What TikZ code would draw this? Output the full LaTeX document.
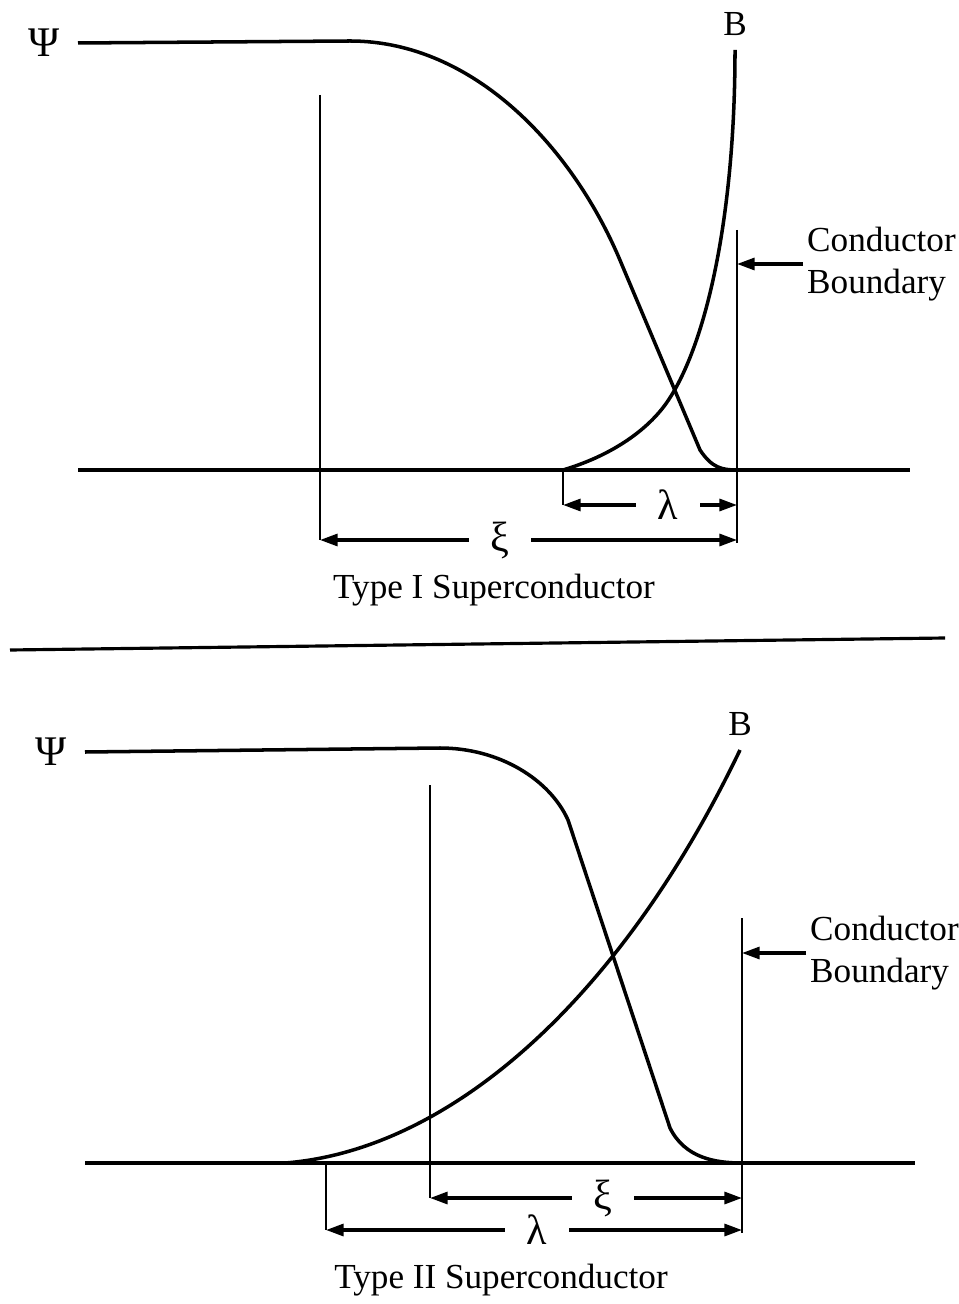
\documentclass[tikz,border=0pt]{standalone}
\usepackage{fontspec}
\setmainfont{Liberation Serif}
\usetikzlibrary{arrows.meta,positioning,calc}

\begin{document}
\begin{tikzpicture}[x=0.01cm, y=-0.01cm,
        curve/.style = {line width=1.0pt, line join=round},
        axis/.style = {line width=0.9pt},
        edge/.style = {line width=0.8pt},
        dim/.style = {-{Triangle[length=5pt,width=3.4pt]}, line width=0.9pt},
        lbl/.style = {font=\fontsize{10}{12}\selectfont, inner sep=1pt},
        greek/.style = {lbl, font=\fontsize{12}{14}\selectfont},
        dimlbl/.style = {greek, inner xsep=6pt},
        note/.style = {lbl, align=left, anchor=west}
    ]
        \useasboundingbox (0,0) rectangle (958,1304);

        % Top: Type I
        \coordinate (psiIs) at (78,43);
        \coordinate (bItop) at (735,50);
        \coordinate (lamIs) at (563,470);
        \coordinate (bndIb) at (737,470);
        \node[greek, left=4pt of psiIs] (psiI) {Ψ};
        \node[lbl, above=3pt of bItop] (bI) {B};

        \draw[axis] (78,470) -- (910,470);
        \draw[curve] (psiIs) -- (350,41) .. controls (475,41) and (575,150) .. (622,265)
            -- (700,450) .. controls (712,468) and (722,470) .. (bndIb);
        \draw[curve] (lamIs) .. controls (610,456) and (645,432) .. (665,405)
            .. controls (705,350) and (735,220) .. (bItop);

        % Type I dimensions
        \coordinate (xiIl) at (320,540);
        \coordinate (xiIr) at (737,540);
        \coordinate (lamIl) at (563,505);
        \coordinate (lamIr) at (737,505);
        \draw[edge] (320,95) -- (xiIl);
        \draw[edge] (737,230) -- (737,543);
        \draw[edge] (lamIs) -- (lamIl);
        \node[dimlbl] (lamI) at (668,505) {λ};
        \draw[dim] (lamI.west) -- (lamIl);
        \draw[dim] (lamI.east) -- (lamIr);
        \node[dimlbl] (xiI) at (500,540) {ξ};
        \draw[dim] (xiI.west) -- (xiIl);
        \draw[dim] (xiI.east) -- (xiIr);

        % Type I boundary note
        \coordinate (cbI) at (737,264);
        \node[note] (noteI) at (803,264) {Conductor\\Boundary};
        \draw[dim] (noteI.west) -- (cbI);
        \node[lbl] (capI) at (494,590) {Type I Superconductor};

        % Separator
        \draw[axis] (10,650) -- (945,638);

        % Bottom: Type II
        \coordinate (psiIIs) at (85,752);
        \coordinate (bIItop) at (740,750);
        \coordinate (lamIIs) at (285,1163);
        \coordinate (bndIIb) at (742,1163);
        \node[greek, left=4pt of psiIIs] (psiII) {Ψ};
        \node[lbl, above=3pt of bIItop] (bII) {B};

        \draw[axis] (85,1163) -- (915,1163);
        \draw[curve] (psiIIs) -- (440,748) .. controls (500,748) and (550,780) .. (568,820)
            -- (670,1128) .. controls (685,1158) and (715,1163) .. (bndIIb);
        \draw[curve] (lamIIs) .. controls (450,1150) and (620,1000) .. (bIItop);

        % Type II dimensions
        \coordinate (xiIIl) at (430,1198);
        \coordinate (xiIIr) at (742,1198);
        \coordinate (lamIIl) at (326,1230);
        \coordinate (lamIIr) at (742,1230);
        \draw[edge] (430,785) -- (xiIIl);
        \draw[edge] (742,918) -- (742,1233);
        \draw[edge] (326,1163) -- (lamIIl);
        \node[dimlbl] (xiII) at (603,1198) {ξ};
        \draw[dim] (xiII.west) -- (xiIIl);
        \draw[dim] (xiII.east) -- (xiIIr);
        \node[dimlbl] (lamII) at (537,1230) {λ};
        \draw[dim] (lamII.west) -- (lamIIl);
        \draw[dim] (lamII.east) -- (lamIIr);

        % Type II boundary note
        \coordinate (cbII) at (742,953);
        \node[note] (noteII) at (806,953) {Conductor\\Boundary};
        \draw[dim] (noteII.west) -- (cbII);
        \node[lbl] (capII) at (501,1280) {Type II Superconductor};

    \end{tikzpicture}
\end{document}
